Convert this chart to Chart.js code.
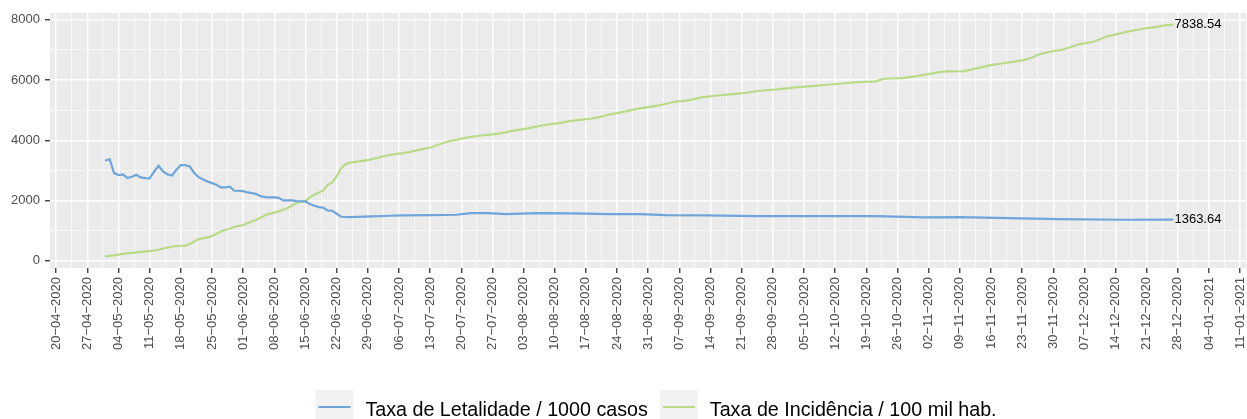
<!DOCTYPE html>
<html lang="pt">
<head>
<meta charset="UTF-8">
<script src="https://cdn.jsdelivr.net/npm/chart.js@4.4.1/dist/chart.umd.min.js"></script>
<title>Taxas</title>
<style>
  body { margin: 0; background: #fff; }
</style>
</head>
<body>
<canvas id="grafico" width="1247" height="419"></canvas>
<script>
// datas no formato dd/mm (todas em 2020)
const letalidadeDatas = ['01/05','02/05','03/05','04/05','05/05','06/05','07/05','08/05','09/05','10/05',
  '11/05','12/05','13/05','14/05','15/05','16/05','17/05','18/05','19/05','20/05','21/05','22/05','23/05',
  '24/05','25/05','26/05','27/05','28/05','29/05','30/05','31/05','01/06','02/06','03/06','04/06','05/06',
  '06/06','07/06','08/06','09/06','10/06','11/06','12/06','13/06','15/06','16/06','17/06','18/06','19/06',
  '20/06','21/06','22/06','23/06','25/06','30/06','04/07','07/07','13/07','19/07','22/07','26/07','30/07',
  '06/08','14/08','22/08','29/08','04/09','13/09','24/09','08/10','21/10','01/11','09/11','20/11','01/12',
  '16/12','27/12'];
const letalidadeValores = [3320,3376,2910,2845,2866,2744,2790,2855,2766,2744,
  2733,2965,3154,2965,2866,2832,3021,3176,3176,3132,2910,2777,2700,
  2633,2578,2523,2434,2434,2456,2324,2324,2312,2268,2246,2213,2135,
  2113,2105,2102,2090,2002,2002,2002,1980,1969,1882,1826,1782,1760,
  1671,1660,1560,1461,1450,1472,1494,1510,1516,1527,1582,1582,1549,
  1582,1571,1549,1549,1516,1505,1483,1483,1483,1438,1450,1416,1383,
  1361,1363.64];

const incidenciaDatas = ['01/05','03/05','05/05','08/05','11/05','13/05','14/05','16/05','18/05','19/05',
  '20/05','21/05','22/05','24/05','25/05','26/05','27/05','28/05','29/05','30/05','01/06','02/06','04/06',
  '05/06','06/06','07/06','08/06','09/06','10/06','11/06','12/06','13/06','14/06','15/06','16/06','17/06',
  '18/06','19/06','20/06','21/06','22/06','23/06','24/06','25/06','27/06','29/06','01/07','03/07','05/07',
  '07/07','09/07','11/07','13/07','15/07','17/07','19/07','21/07','24/07','27/07','29/07','01/08','03/08',
  '05/08','08/08','11/08','13/08','15/08','18/08','20/08','22/08','24/08','26/08','29/08','31/08','03/09',
  '06/09','09/09','12/09','15/09','19/09','22/09','25/09','29/09','03/10','06/10','10/10','13/10','17/10',
  '21/10','23/10','27/10','30/10','01/11','04/11','06/11','10/11','12/11','16/11','18/11','23/11','25/11',
  '27/11','30/11','02/12','06/12','09/12','12/12','16/12','20/12','23/12','25/12','27/12'];
const incidenciaValores = [143,177,232,277,321,365,409,465,498,498,
  553,642,719,775,819,896,974,1029,1062,1129,1184,1250,1361,
  1438,1516,1565,1600,1640,1693,1749,1837,1915,1960,1982,2113,2191,
  2268,2334,2523,2600,2799,3077,3210,3254,3298,3343,3410,3486,3542,
  3575,3630,3697,3752,3860,3961,4017,4083,4150,4194,4239,4327,4372,
  4427,4515,4571,4626,4671,4714,4770,4847,4903,4957,5057,5102,5179,
  5278,5323,5423,5478,5534,5577,5644,5688,5754,5787,5843,5876,5932,
  5954,6043,6065,6120,6170,6253,6286,6297,6364,6497,6541,6652,6729,
  6862,6962,7005,7194,7271,7447,7580,7703,7758,7814,7838.54];

const xTickLabels = ['20-04-2020','27-04-2020','04-05-2020','11-05-2020','18-05-2020','25-05-2020',
  '01-06-2020','08-06-2020','15-06-2020','22-06-2020','29-06-2020','06-07-2020','13-07-2020',
  '20-07-2020','27-07-2020','03-08-2020','10-08-2020','17-08-2020','24-08-2020','31-08-2020',
  '07-09-2020','14-09-2020','21-09-2020','28-09-2020','05-10-2020','12-10-2020','19-10-2020',
  '26-10-2020','02-11-2020','09-11-2020','16-11-2020','23-11-2020','30-11-2020','07-12-2020',
  '14-12-2020','21-12-2020','28-12-2020','04-01-2021','11-01-2021'];
const yTickLabels = [0, 2000, 4000, 6000, 8000];
const yMinor = [1000, 3000, 5000, 7000];

const nomes = ['Taxa de Letalidade / 1000 casos', 'Taxa de Incidência / 100 mil hab.'];
const cores = ['#6fa5da', '#b9da87'];

const dia0 = Date.UTC(2020, 3, 20);
const diaDe = (d, m, a) => (Date.UTC(a, m - 1, d) - dia0) / 864e5;
const curto = s => { const [d, m] = s.split('/').map(Number); return diaDe(d, m, 2020); };
const longo = s => { const [d, m, a] = s.split('-').map(Number); return diaDe(d, m, a); };

const majorX = xTickLabels.map(longo);
const minorX = majorX.slice(1).map((v, i) => (v + majorX[i]) / 2);
const rotulo = {};
xTickLabels.forEach((t, i) => { rotulo[majorX[i]] = t.replace(/-/g, '\u2212'); });

const serie = (datas, vals) => datas.map((d, i) => ({ x: curto(d), y: vals[i] }));

const fonte = 'Liberation Sans, Arial, sans-serif';

const fundo = {
  id: 'fundo',
  beforeDraw(chart) {
    const { ctx, chartArea: a } = chart;
    ctx.save();
    ctx.fillStyle = '#ebebeb';
    ctx.fillRect(a.left, a.top, a.right - a.left, a.bottom - a.top);
    ctx.restore();
  }
};

const rotulosFinais = {
  id: 'rotulosFinais',
  afterDatasetsDraw(chart) {
    const ctx = chart.ctx;
    ctx.save();
    ctx.font = '13px ' + fonte;
    ctx.fillStyle = '#000';
    ctx.textAlign = 'left';
    ctx.textBaseline = 'middle';
    chart.data.datasets.forEach((ds, i) => {
      const pts = chart.getDatasetMeta(i).data;
      const p = pts[pts.length - 1];
      ctx.fillText(ds.data[ds.data.length - 1].y.toFixed(2), p.x + 1, p.y);
    });
    ctx.restore();
  }
};

const legenda = {
  id: 'legenda',
  afterDraw(chart) {
    const ctx = chart.ctx;
    ctx.save();
    ctx.font = '19.7px ' + fonte;
    const caixaL = 38, caixaA = 29, gap = 12, entre = 12;
    const larg = chart.data.datasets.map(ds => ctx.measureText(ds.label).width);
    const total = larg.reduce((s, w) => s + caixaL + gap + w, 0) + entre;
    let x = 656 - total / 2;
    const y = 390;
    chart.data.datasets.forEach((ds, i) => {
      ctx.fillStyle = '#f2f2f2';
      ctx.fillRect(x, y, caixaL, caixaA);
      ctx.strokeStyle = ds.borderColor;
      ctx.lineWidth = 2.2;
      ctx.beginPath();
      ctx.moveTo(x + 3, y + 17);
      ctx.lineTo(x + caixaL - 3, y + 17);
      ctx.stroke();
      ctx.fillStyle = '#000';
      ctx.textBaseline = 'alphabetic';
      ctx.fillText(ds.label, x + caixaL + gap, 416);
      x += caixaL + gap + larg[i] + entre;
    });
    ctx.restore();
  }
};

new Chart(document.getElementById('grafico'), {
  type: 'line',
  data: {
    datasets: [
      { label: nomes[0], data: serie(letalidadeDatas, letalidadeValores), borderColor: cores[0] },
      { label: nomes[1], data: serie(incidenciaDatas, incidenciaValores), borderColor: cores[1] }
    ]
  },
  options: {
    responsive: false,
    animation: false,
    layout: { padding: { top: 13, right: 1, left: 0, bottom: 0 } },
    elements: {
      line: { borderWidth: 2.2, tension: 0, fill: false },
      point: { radius: 0 }
    },
    plugins: { legend: { display: false }, tooltip: { enabled: false } },
    scales: {
      x: {
        type: 'linear',
        min: -1.4,
        max: 267.3,
        afterBuildTicks: s => { s.ticks = [...majorX, ...minorX].sort((a, b) => a - b).map(v => ({ value: v })); },
        afterFit: s => { s.height = 151; s.paddingLeft = 0; s.paddingRight = 0; },
        border: { display: false },
        grid: {
          color: '#ffffff',
          lineWidth: c => (c.tick && rotulo[c.tick.value] !== undefined ? 1.5 : 0.7),
          tickColor: c => (c.tick && rotulo[c.tick.value] !== undefined ? '#333333' : 'rgba(0,0,0,0)'),
          tickWidth: 1.3,
          tickLength: 5
        },
        ticks: {
          autoSkip: false,
          minRotation: 90,
          maxRotation: 90,
          padding: 4,
          color: '#4d4d4d',
          font: { family: fonte, size: 13 },
          callback: v => rotulo[v] || ''
        }
      },
      y: {
        min: -240,
        max: 8225,
        afterBuildTicks: s => { s.ticks = [...yTickLabels, ...yMinor].sort((a, b) => a - b).map(v => ({ value: v })); },
        afterFit: s => { s.width = 50; s.paddingTop = 0; s.paddingBottom = 0; },
        border: { display: false },
        grid: {
          color: '#ffffff',
          lineWidth: c => (c.tick && yTickLabels.includes(c.tick.value) ? 1.5 : 0.7),
          tickColor: c => (c.tick && yTickLabels.includes(c.tick.value) ? '#333333' : 'rgba(0,0,0,0)'),
          tickWidth: 1.3,
          tickLength: 5
        },
        ticks: {
          padding: 5,
          color: '#4d4d4d',
          font: { family: fonte, size: 13 },
          callback: v => (yTickLabels.includes(v) ? String(v) : '')
        }
      }
    }
  },
  plugins: [fundo, rotulosFinais, legenda]
});
</script>
</body>
</html>
